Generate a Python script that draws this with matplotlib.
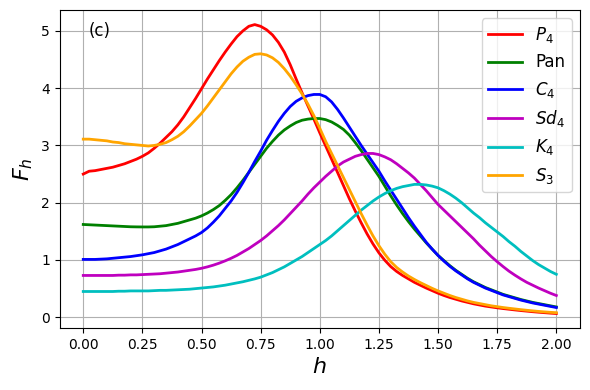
import numpy as np
import matplotlib
matplotlib.use("Agg")
import matplotlib.pyplot as plt

# values, h = 0.000, 0.025, ..., 2.000
h = [round(0.025 * i, 3) for i in range(81)]

p4 = [2.50, 2.55, 2.56, 2.58, 2.60, 2.62, 2.65, 2.68, 2.72, 2.76,
      2.81, 2.87, 2.95, 3.04, 3.14, 3.24, 3.36, 3.50, 3.66, 3.82,
      3.99, 4.16, 4.32, 4.48, 4.63, 4.77, 4.90, 5.00, 5.08, 5.11,
      5.08, 5.02, 4.93, 4.80, 4.63, 4.41, 4.16, 3.92, 3.69, 3.46,
      3.22, 2.99, 2.76, 2.53, 2.30, 2.07, 1.855, 1.65, 1.455, 1.28,
      1.125, 0.995, 0.885, 0.80, 0.73, 0.67, 0.61, 0.56, 0.51, 0.465,
      0.42, 0.38, 0.345, 0.315, 0.285, 0.26, 0.235, 0.215, 0.195, 0.18,
      0.165, 0.152, 0.14, 0.128, 0.117, 0.107, 0.097, 0.088, 0.08, 0.072,
      0.065]
pan = [1.62, 1.615, 1.61, 1.605, 1.60, 1.595, 1.59, 1.585, 1.58, 1.578,
       1.577, 1.577, 1.58, 1.59, 1.60, 1.62, 1.64, 1.67, 1.70, 1.73,
       1.77, 1.82, 1.88, 1.95, 2.04, 2.14, 2.26, 2.39, 2.53, 2.67,
       2.81, 2.95, 3.07, 3.18, 3.27, 3.34, 3.40, 3.44, 3.46, 3.47,
       3.47, 3.45, 3.41, 3.35, 3.28, 3.18, 3.05, 2.91, 2.76, 2.61,
       2.46, 2.29, 2.12, 1.96, 1.81, 1.67, 1.54, 1.42, 1.30, 1.19,
       1.08, 0.99, 0.90, 0.82, 0.75, 0.68, 0.62, 0.57, 0.52, 0.48,
       0.44, 0.40, 0.37, 0.34, 0.31, 0.285, 0.26, 0.24, 0.22, 0.20,
       0.18]
c4 = [1.01, 1.01, 1.01, 1.015, 1.02, 1.03, 1.04, 1.05, 1.06, 1.075,
      1.09, 1.11, 1.13, 1.16, 1.19, 1.23, 1.27, 1.32, 1.37, 1.42,
      1.48, 1.56, 1.66, 1.77, 1.90, 2.03, 2.18, 2.35, 2.53, 2.72,
      2.90, 3.09, 3.26, 3.42, 3.56, 3.68, 3.77, 3.83, 3.87, 3.89,
      3.89, 3.85, 3.76, 3.63, 3.48, 3.32, 3.16, 3.00, 2.85, 2.70,
      2.55, 2.38, 2.22, 2.06, 1.90, 1.74, 1.59, 1.45, 1.31, 1.19,
      1.08, 0.98, 0.89, 0.81, 0.74, 0.67, 0.61, 0.56, 0.51, 0.47,
      0.43, 0.39, 0.36, 0.33, 0.30, 0.275, 0.25, 0.23, 0.21, 0.19,
      0.17]
sd4 = [0.73, 0.73, 0.73, 0.73, 0.73, 0.73, 0.735, 0.735, 0.74, 0.74,
       0.745, 0.75, 0.755, 0.76, 0.77, 0.78, 0.79, 0.805, 0.82, 0.835,
       0.855, 0.88, 0.91, 0.945, 0.985, 1.03, 1.08, 1.14, 1.20, 1.27,
       1.34, 1.42, 1.51, 1.60, 1.70, 1.81, 1.92, 2.03, 2.15, 2.26,
       2.36, 2.46, 2.55, 2.64, 2.71, 2.76, 2.81, 2.84, 2.86, 2.86,
       2.84, 2.80, 2.75, 2.68, 2.60, 2.52, 2.43, 2.32, 2.21, 2.09,
       1.97, 1.87, 1.77, 1.67, 1.57, 1.47, 1.37, 1.26, 1.16, 1.06,
       0.97, 0.885, 0.805, 0.735, 0.67, 0.61, 0.56, 0.51, 0.465, 0.42,
       0.38]
k4 = [0.45, 0.45, 0.45, 0.45, 0.45, 0.45, 0.455, 0.455, 0.46, 0.46,
      0.46, 0.46, 0.465, 0.47, 0.47, 0.475, 0.48, 0.485, 0.49, 0.50,
      0.51, 0.52, 0.53, 0.545, 0.56, 0.58, 0.60, 0.62, 0.645, 0.67,
      0.70, 0.74, 0.78, 0.83, 0.88, 0.94, 1.00, 1.06, 1.13, 1.20,
      1.27, 1.34, 1.42, 1.51, 1.60, 1.69, 1.78, 1.87, 1.95, 2.03,
      2.10, 2.16, 2.21, 2.25, 2.28, 2.30, 2.32, 2.32, 2.31, 2.29,
      2.26, 2.21, 2.15, 2.08, 2.00, 1.91, 1.82, 1.74, 1.65, 1.57,
      1.49, 1.41, 1.32, 1.24, 1.15, 1.07, 0.99, 0.92, 0.86, 0.80,
      0.75]
s3 = [3.11, 3.11, 3.10, 3.09, 3.08, 3.06, 3.05, 3.03, 3.02, 3.01,
      3.00, 2.99, 3.00, 3.02, 3.05, 3.10, 3.16, 3.24, 3.34, 3.45,
      3.56, 3.69, 3.83, 3.97, 4.11, 4.25, 4.37, 4.47, 4.54, 4.59,
      4.60, 4.58, 4.53, 4.45, 4.34, 4.21, 4.06, 3.90, 3.72, 3.52,
      3.30, 3.07, 2.86, 2.65, 2.44, 2.23, 2.02, 1.81, 1.61, 1.42,
      1.25, 1.10, 0.97, 0.87, 0.79, 0.72, 0.66, 0.605, 0.555, 0.505,
      0.46, 0.42, 0.38, 0.345, 0.315, 0.285, 0.26, 0.24, 0.22, 0.20,
      0.185, 0.17, 0.157, 0.145, 0.133, 0.122, 0.112, 0.102, 0.094, 0.086,
      0.08]

labels = ["$P_4$", "Pan", "$C_4$", "$Sd_4$", "$K_4$", "$S_3$"]
colors = ["r", "g", "b", "m", "c", "orange"]
series = [p4, pan, c4, sd4, k4, s3]

fig, ax = plt.subplots(figsize=(5.9, 3.9), dpi=100)
fig.subplots_adjust(left=0.101, right=0.983, bottom=0.159, top=0.974)

for y, c, lab in zip(series, colors, labels):
    ax.plot(h, y, color=c, lw=2, label=lab)

ax.set_xlabel("$h$", fontsize=16)
ax.set_ylabel("$F_h$", fontsize=16)
ax.grid(True)
ax.legend(loc="upper right", fontsize=12)
ax.text(0.055, 0.934, "(c)", transform=ax.transAxes, fontsize=12, va="center")

fig.savefig("out.png", dpi=100)
